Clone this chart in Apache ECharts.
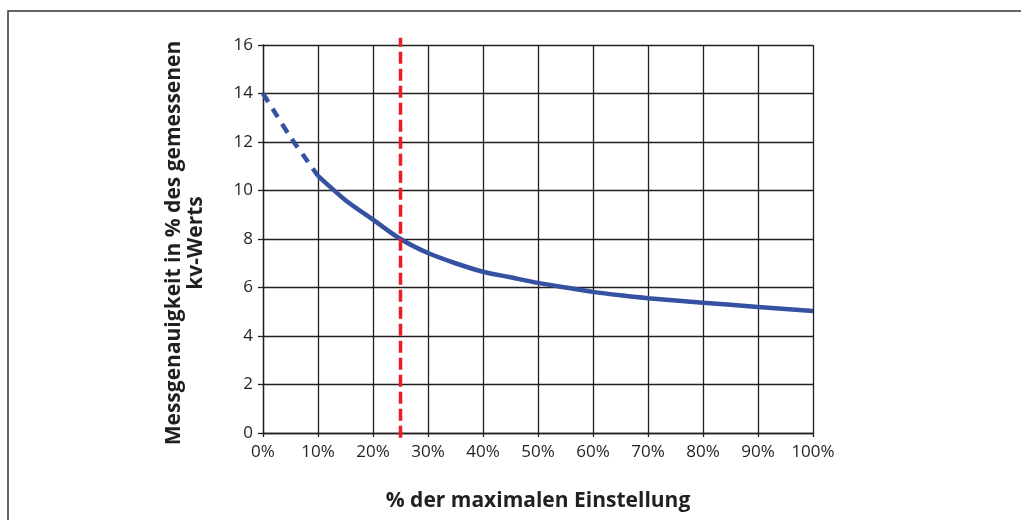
<!DOCTYPE html>
<html>
<head>
<meta charset="utf-8">
<script src="https://cdn.jsdelivr.net/npm/echarts@6/dist/echarts.min.js"></script>
<style>html,body{margin:0;padding:0;background:#fff}#c{width:1021px;height:520px}</style>
</head>
<body>
<div id="c"></div>
<script>
const xTicks = [0,10,20,30,40,50,60,70,80,90,100];
const yTicks = [0,2,4,6,8,10,12,14,16];
const dashedX = [0, 2.5, 5, 7.5, 10];
const dashedY = [14, 13.1, 12.2, 11.4, 10.6];
const solidX = [10, 15, 20, 25, 30, 35, 40, 45, 50, 55, 60, 65, 70, 80, 90, 100];
const solidY = [10.6, 9.6, 8.8, 8.0, 7.42, 7.0, 6.65, 6.42, 6.19, 6.0, 5.82, 5.68, 5.56, 5.37, 5.2, 5.03];
const markerX = [25, 25];
const markerY = [-0.2, 16.3];
const xTitle = '% der maximalen Einstellung';
const yTitle = 'Messgenauigkeit in % des gemessenen\nkv-Werts';

const ink = '#231f20';
const font = 'Open Sans';
const chart = echarts.init(document.getElementById('c'));
chart.setOption({
  animation: false,
  backgroundColor: '#fff',
  grid: { left: 263, right: 208, top: 45, bottom: 87 },
  graphic: [{
    type: 'rect', shape: { x: 8, y: 11, width: 1100, height: 600 },
    style: { fill: 'none', stroke: '#333', lineWidth: 1.5 }, silent: true
  }],
  xAxis: {
    type: 'value', min: 0, max: 100, interval: 10,
    name: xTitle, nameLocation: 'middle', nameGap: 58,
    nameTextStyle: { fontFamily: font, fontWeight: 'bold', fontSize: 21, color: ink },
    axisLine: { show: true, lineStyle: { color: ink, width: 1.3 } },
    axisTick: { show: true, length: 4, lineStyle: { color: ink, width: 1.3 } },
    axisLabel: { fontFamily: font, fontSize: 17, color: ink, margin: 11, formatter: v => v + '%' },
    splitLine: { show: true, lineStyle: { color: ink, width: 1.3 } }
  },
  yAxis: {
    type: 'value', min: 0, max: 16, interval: 2,
    name: yTitle, nameLocation: 'middle', nameGap: 56, nameRotate: 90,
    nameTextStyle: { fontFamily: font, fontWeight: 'bold', fontSize: 21, color: ink, lineHeight: 22, align: 'center', padding: [0, 8, 0, 0] },
    axisLine: { show: true, lineStyle: { color: ink, width: 1.3 } },
    axisTick: { show: true, length: 5, lineStyle: { color: ink, width: 1.3 } },
    axisLabel: { fontFamily: font, fontSize: 17, color: ink, margin: 10 },
    splitLine: { show: true, lineStyle: { color: ink, width: 1.3 } }
  },
  series: [
    {
      type: 'line', data: dashedX.map((x, i) => [x, dashedY[i]]), smooth: 0.3,
      symbol: 'none', lineStyle: { color: '#3451a2', width: 4.5, type: [10, 8] }, z: 3
    },
    {
      type: 'line', data: solidX.map((x, i) => [x, solidY[i]]), smooth: 0.3,
      symbol: 'none', lineStyle: { color: '#3451a2', width: 4.5 }, z: 3
    },
    {
      type: 'line', data: markerX.map((x, i) => [x, markerY[i]]), clip: false,
      symbol: 'none', lineStyle: { color: '#ed1c24', width: 3.5, type: [12, 5] }, z: 4
    }
  ]
});
</script>
</body>
</html>
